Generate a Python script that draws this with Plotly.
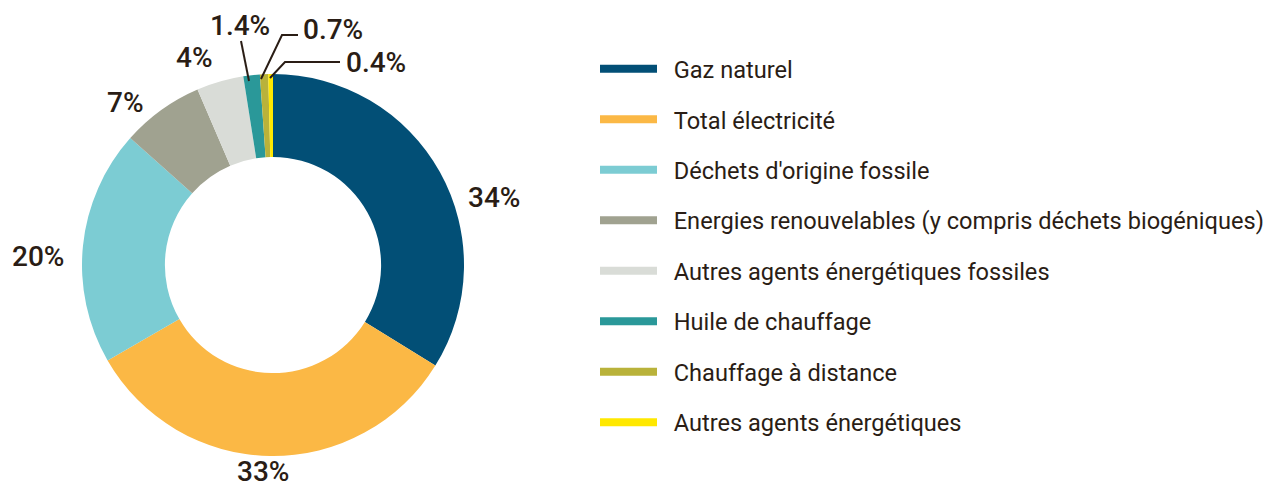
import plotly.graph_objects as go

categories = ["Gaz naturel", "Total électricité", "Déchets d'origine fossile",
              "Energies renouvelables (y compris déchets biogéniques)",
              "Autres agents énergétiques fossiles", "Huile de chauffage",
              "Chauffage à distance", "Autres agents énergétiques"]
values = [34, 33, 20, 7, 4, 1.4, 0.7, 0.4]
value_labels = ["34%", "33%", "20%", "7%", "4%", "1.4%", "0.7%", "0.4%"]

colors = ["#024F76", "#FBB845", "#7CCCD3", "#A0A290", "#D9DCD7", "#2A9899", "#B9B23A", "#FFE800"]
TXT = "#2a1d15"
W, H = 1273, 487

def px(x, y):
    return x / W, 1 - y / H

fig = go.Figure()
fig.add_trace(go.Pie(
    labels=categories, values=values, hole=0.566, sort=False, direction="clockwise",
    rotation=0, marker=dict(colors=colors, line=dict(width=0)), textinfo="none",
    showlegend=False, hoverinfo="label+percent",
    domain=dict(x=[82 / W, 464 / W], y=[1 - 456 / H, 1 - 74 / H]),
))

for c, col in zip(categories, colors):
    fig.add_trace(go.Scatter(x=[None], y=[None], mode="lines", name="\u00a0\u00a0" + c, legendgroup=c,
                             line=dict(color=col, width=8), showlegend=True))

# label positions (pixel centres) - style only
label_pos = [(494, 198), (263, 471), (38, 256), (125, 102), (194, 58), (240, 25), (333, 29), (376, 63)]
for t, (x, y) in zip(value_labels, label_pos):
    ax, ay = px(x, y)
    fig.add_annotation(x=ax, y=ay, xref="paper", yref="paper", text=t, showarrow=False,
                       font=dict(family="Roboto", size=28, weight=500, color=TXT),
                       xanchor="center", yanchor="middle")

leaders = [[(241, 41), (249, 81)],
           [(298, 35), (282, 35), (261, 79)],
           [(340, 62), (285, 62), (270, 78)]]
for pts in leaders:
    path = "M " + " L ".join(f"{px(x, y)[0]:.5f},{px(x, y)[1]:.5f}" for x, y in pts)
    fig.add_shape(type="path", path=path, xref="paper", yref="paper",
                  line=dict(color=TXT, width=2))

fig.update_layout(
    width=W, height=H, margin=dict(l=0, r=0, t=0, b=0, autoexpand=False),
    paper_bgcolor="white", plot_bgcolor="white",
    xaxis=dict(visible=False), yaxis=dict(visible=False),
    legend=dict(x=595 / W, y=1 - 47 / H, xanchor="left", yanchor="top",
                font=dict(family="Roboto", size=23.6, color=TXT), itemwidth=57,
                tracegroupgap=16.8, bgcolor="rgba(0,0,0,0)"),
)
fig.write_html("out.html", post_script="document.body.style.margin='0';",
               config={"displayModeBar": False})
